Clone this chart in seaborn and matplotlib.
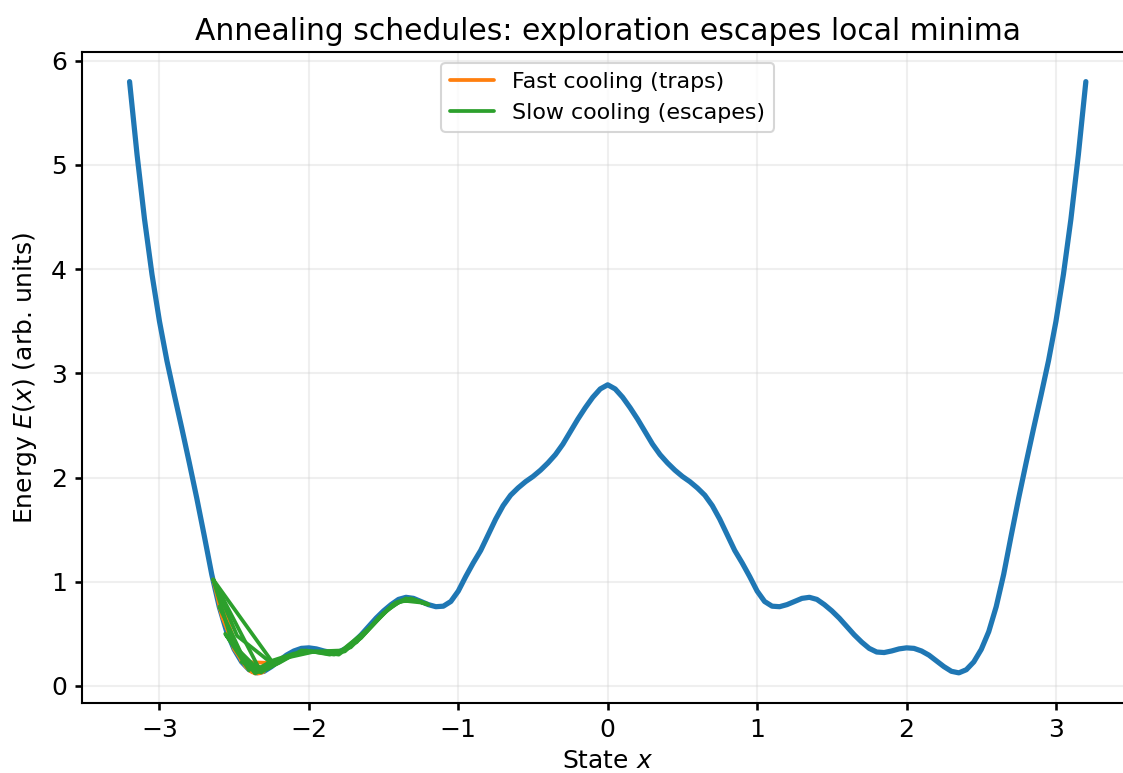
import pandas as pd
import matplotlib.pyplot as plt
import seaborn as sns

# Energy landscape
state_x = [-3.2, -3.15, -3.1, -3.05, -3.0, -2.95, -2.9, -2.85, -2.8, -2.75, -2.7, -2.65,
           -2.6, -2.55, -2.5, -2.45, -2.4, -2.35, -2.3, -2.25, -2.2, -2.15, -2.1, -2.05,
           -2.0, -1.95, -1.9, -1.85, -1.8, -1.75, -1.7, -1.65, -1.6, -1.55, -1.5, -1.45,
           -1.4, -1.35, -1.3, -1.25, -1.2, -1.15, -1.1, -1.05, -1.0, -0.95, -0.9, -0.85,
           -0.8, -0.75, -0.7, -0.65, -0.6, -0.55, -0.5, -0.45, -0.4, -0.35, -0.3, -0.25,
           -0.2, -0.15, -0.1, -0.05, 0.0,
           0.05, 0.1, 0.15, 0.2, 0.25, 0.3, 0.35, 0.4, 0.45, 0.5, 0.55, 0.6, 0.65, 0.7,
           0.75, 0.8, 0.85, 0.9, 0.95, 1.0, 1.05, 1.1, 1.15, 1.2, 1.25, 1.3, 1.35, 1.4,
           1.45, 1.5, 1.55, 1.6, 1.65, 1.7, 1.75, 1.8, 1.85, 1.9, 1.95, 2.0, 2.05, 2.1,
           2.15, 2.2, 2.25, 2.3, 2.35, 2.4, 2.45, 2.5, 2.55, 2.6, 2.65, 2.7, 2.75, 2.8,
           2.85, 2.9, 2.95, 3.0, 3.05, 3.1, 3.15, 3.2]
energy = [5.80, 5.10, 4.48, 3.95, 3.50, 3.12, 2.79, 2.47, 2.14, 1.80, 1.44, 1.07,
          0.76, 0.52, 0.35, 0.23, 0.155, 0.125, 0.14, 0.185, 0.24, 0.295, 0.335, 0.36,
          0.365, 0.355, 0.335, 0.32, 0.325, 0.36, 0.42, 0.49, 0.57, 0.65, 0.72, 0.78,
          0.83, 0.85, 0.84, 0.81, 0.78, 0.76, 0.765, 0.81, 0.91, 1.05, 1.18, 1.30,
          1.45, 1.60, 1.73, 1.83, 1.90, 1.96, 2.01, 2.07, 2.14, 2.22, 2.32, 2.44,
          2.56, 2.67, 2.77, 2.85, 2.89,
          2.85, 2.77, 2.67, 2.56, 2.44, 2.32, 2.22, 2.14, 2.07, 2.01, 1.96, 1.90, 1.83, 1.73,
          1.60, 1.45, 1.30, 1.18, 1.05, 0.91, 0.81, 0.765, 0.76, 0.78, 0.81, 0.84, 0.85, 0.83,
          0.78, 0.72, 0.65, 0.57, 0.49, 0.42, 0.36, 0.325, 0.32, 0.335, 0.355, 0.365, 0.36, 0.335,
          0.295, 0.24, 0.185, 0.14, 0.125, 0.155, 0.23, 0.35, 0.52, 0.76, 1.07, 1.44, 1.80, 2.14,
          2.47, 2.79, 3.12, 3.50, 3.95, 4.48, 5.10, 5.80]

# Fast cooling runs (stay in the left well)
fast_runs_x = [[-2.64, -2.58, -2.47, -2.42, -2.36, -2.30, -2.34],
               [-2.64, -2.45, -2.25, -2.38, -2.33],
               [-2.60, -2.50, -2.40, -2.35, -2.31],
               [-2.58, -2.44, -2.39, -2.45, -2.36]]
fast_runs_e = [[1.02, 0.66, 0.29, 0.18, 0.12, 0.14, 0.12],
               [1.02, 0.23, 0.22, 0.13, 0.12],
               [0.76, 0.35, 0.15, 0.12, 0.13],
               [0.68, 0.25, 0.14, 0.26, 0.12]]

# Slow cooling runs (climb out towards the next basin)
slow_runs_x = [[-2.64, -2.25, -2.10, -1.95, -1.80, -1.65, -1.50, -1.38, -1.25, -1.20],
               [-2.64, -2.51, -2.32, -2.15, -2.02, -1.86, -1.72, -1.58, -1.44, -1.32, -1.22],
               [-2.64, -2.32, -2.45, -2.28, -2.12, -1.98, -1.83, -1.68, -1.53, -1.40, -1.28, -1.20],
               [-2.60, -2.40, -2.56, -2.36, -2.20, -2.05, -1.90, -1.76, -1.62, -1.47, -1.35, -1.21],
               [-2.64, -2.48, -2.26, -2.37, -2.18, -1.96, -1.78, -1.60, -1.42, -1.30, -1.22]]
slow_runs_e = [[1.02, 0.24, 0.31, 0.33, 0.30, 0.46, 0.70, 0.82, 0.80, 0.78],
               [1.02, 0.40, 0.13, 0.27, 0.34, 0.30, 0.37, 0.57, 0.78, 0.84, 0.79],
               [1.02, 0.13, 0.23, 0.16, 0.29, 0.33, 0.30, 0.42, 0.66, 0.81, 0.82, 0.78],
               [0.76, 0.15, 0.50, 0.12, 0.22, 0.34, 0.32, 0.33, 0.51, 0.74, 0.84, 0.79],
               [1.02, 0.48, 0.23, 0.14, 0.26, 0.33, 0.34, 0.55, 0.80, 0.83, 0.79]]

labels = ["Fast cooling (traps)", "Slow cooling (escapes)"]

sns.set_theme(style="ticks", rc={
    "xtick.major.size": 3.5, "ytick.major.size": 3.5,
    "text.color": "black", "axes.labelcolor": "black",
    "xtick.color": "black", "ytick.color": "black", "axes.edgecolor": "black",
})
plt.rcParams['font.family'] = ['DejaVu Sans']

# Build long table of trajectories
rows = []
for label, xs_list, es_list in [(labels[0], fast_runs_x, fast_runs_e),
                                (labels[1], slow_runs_x, slow_runs_e)]:
    for i, (xs, es) in enumerate(zip(xs_list, es_list)):
        for step, (xv, ev) in enumerate(zip(xs, es)):
            rows.append({"schedule": label, "run": f"{label}-{i}", "step": step,
                         "x": xv, "E": ev})
traj = pd.DataFrame(rows)

fig = plt.figure(figsize=(1123 / 150, 773 / 150), dpi=150)
ax = fig.add_axes([0.0728, 0.0906, 0.9367, 0.8421])

sns.lineplot(x=state_x, y=energy, color="#1f77b4", linewidth=2.5,
             sort=False, estimator=None, ax=ax, legend=False)
sns.lineplot(data=traj, x="x", y="E", hue="schedule", units="run",
             estimator=None, sort=False, linewidth=1.8,
             palette={labels[0]: "#ff7f0e", labels[1]: "#2ca02c"},
             hue_order=labels, ax=ax)

ax.set_xlim(-3.52, 3.52)
ax.set_ylim(-0.164, 6.084)
ax.set_title("Annealing schedules: exploration escapes local minima", fontsize=14.3, pad=6)
ax.set_xlabel("State $x$", fontsize=12, labelpad=3.5)
ax.set_ylabel("Energy $E(x)$ (arb. units)", fontsize=12, labelpad=6)
ax.tick_params(labelsize=12)
ax.grid(True, alpha=0.3)
for sp in ax.spines.values():
    sp.set_linewidth(1.0)

sns.move_legend(ax, "upper center", title=None, fontsize=10.6, frameon=True)

fig.savefig("out.png", dpi=150)
